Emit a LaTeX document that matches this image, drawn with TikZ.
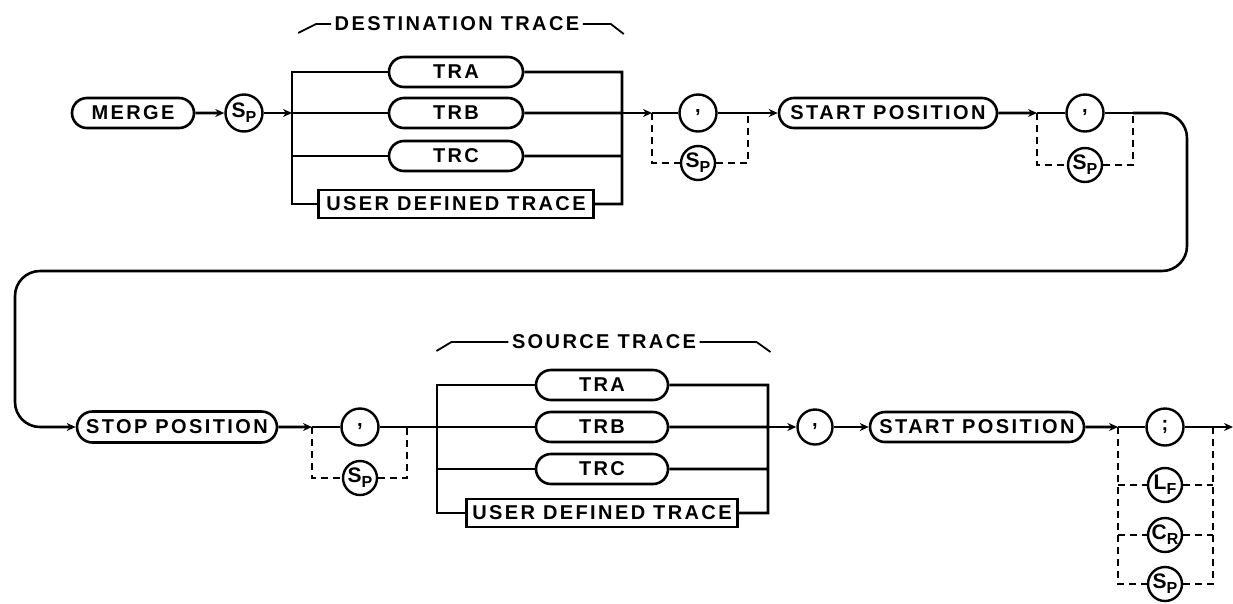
\documentclass[tikz,border=0pt]{standalone}
\usepackage{fontspec}
\newfontfamily\plotfont[LetterSpace=12]{Liberation Sans}
\usetikzlibrary{shapes.misc,arrows.meta,positioning}
\newcommand{\lowsub}[2]{{\fontsize{21}{21}\selectfont #1}\raisebox{-0.45ex}{\fontsize{16}{16}\selectfont #2}}

\begin{document}
\begin{tikzpicture}[x=1pt, y=-1pt,
    every node/.style={font=\plotfont\bfseries\fontsize{20}{22}\selectfont},
    term/.style={rounded rectangle, draw, line width=2.6pt, minimum height=30pt, inner xsep=4pt, inner ysep=2pt},
    usrbox/.style={rectangle, draw, line width=2.6pt, minimum height=28pt, inner xsep=4pt, inner ysep=2pt},
    sym/.style={circle, draw, line width=2.4pt, minimum size=37pt, inner sep=0pt},
    line/.style={line width=2.6pt},
    flow/.style={line width=2.6pt, -{Stealth[length=9pt,width=8pt]}},
    bypass/.style={line width=1.8pt, dash pattern=on 7pt off 5pt},
    bracket/.style={line width=1.8pt}]
  \useasboundingbox (0,0) rectangle (1233,603);

  % first line
  \node[term, minimum width=130pt] (merge) at (133,113) {MERGE};
  \node[sym] (sp1) at (244,113) {\lowsub{S}{P}};
  \coordinate (jl1) at (292,113);
  \coordinate (jr1) at (622,113);
  \node[term, minimum width=142pt] (tra1) at (456,72) {TRA};
  \node[term, minimum width=142pt] (trb1) at (456,113) {TRB};
  \node[term, minimum width=142pt] (trc1) at (456,156) {TRC};
  \node[usrbox, minimum width=275pt] (usr1) at (456,204) {USER DEFINED TRACE};
  \node (dst) at (457,24) {DESTINATION TRACE};
  \coordinate (s1) at (652,113);
  \node[sym] (c1) at (698,113) {,};
  \coordinate (m1) at (748,113);
  \node[sym, minimum size=34pt] (sp2) at (698,163) {\lowsub{S}{P}};
  \node[term, minimum width=226pt] (st1) at (888,113) {START POSITION};
  \coordinate (s2) at (1037,113);
  \node[sym] (c2) at (1085,113) {,};
  \coordinate (m2) at (1133,113);
  \node[sym, minimum size=34pt] (sp3) at (1085,165) {\lowsub{S}{P}};

  \draw[flow] (merge) -- (sp1);
  \draw[flow] (sp1) -- (jl1);
  \draw[line] (jl1) |- (tra1) (jl1) -- (trb1) (jl1) |- (trc1) (jl1) |- (usr1);
  \draw[line] (tra1) -| (jr1) (trb1) -- (jr1) (trc1) -| (jr1) (usr1) -| (jr1);
  \draw[bracket] (dst.west) -- ++(-15,0) -- ++(-18,9);
  \draw[bracket] (dst.east) -- ++(28,0) -- ++(13,10);
  \draw[flow] (jr1) -- (s1);
  \draw[line] (s1) -- (c1) -- (m1);
  \draw[bypass] (s1) |- (sp2) -| (m1);
  \draw[flow] (m1) -- (st1);
  \draw[flow] (st1) -- (s2);
  \draw[line] (s2) -- (c2) -- (m2);
  \draw[bypass] (s2) |- (sp3) -| (m2);

  % wrap to second line
  \coordinate (k1) at (1187,113);
  \coordinate (k2) at (1187,271);
  \coordinate (k3) at (15,271);
  \coordinate (k4) at (15,427);

  % second line
  \node[term, minimum width=208pt, minimum height=31pt] (stop1) at (177,427) {STOP POSITION};
  \coordinate (s3) at (312,427);
  \node[sym] (c3) at (360,427) {,};
  \coordinate (m3) at (407,427);
  \node[sym, minimum size=34pt] (sp4) at (360,478) {\lowsub{S}{P}};
  \coordinate (jl2) at (437,427);
  \coordinate (jr2) at (768,427);
  \node[term, minimum width=140pt] (tra2) at (602,385) {TRA};
  \node[term, minimum width=140pt] (trb2) at (602,427) {TRB};
  \node[term, minimum width=140pt] (trc2) at (602,469) {TRC};
  \node[usrbox, minimum width=271pt] (usr2) at (602,513) {USER DEFINED TRACE};
  \node (src) at (604,342) {SOURCE TRACE};
  \node[sym, minimum size=35pt] (c4) at (815,427) {,};
  \node[term, minimum width=222pt] (st2) at (977,427) {START POSITION};
  \coordinate (s4) at (1118,427);
  \node[sym] (c5) at (1165,427) {;};
  \coordinate (m4) at (1213,427);
  \node[sym, minimum size=34pt] (lf) at (1165,485) {\lowsub{L}{F}};
  \node[sym, minimum size=34pt] (cr) at (1165,535) {\lowsub{C}{R}};
  \node[sym, minimum size=34pt] (sp5) at (1165,584) {\lowsub{S}{P}};
  \coordinate (fin) at (1233,427);

  \draw[flow, rounded corners=25pt] (m2) -- (k1) -- (k2) -- (k3) -- (k4) -- (stop1);
  \draw[flow] (stop1) -- (s3);
  \draw[line] (s3) -- (c3) -- (m3) -- (jl2);
  \draw[bypass] (s3) |- (sp4) -| (m3);
  \draw[line] (jl2) |- (tra2) (jl2) -- (trb2) (jl2) |- (trc2) (jl2) |- (usr2);
  \draw[line] (tra2) -| (jr2) (trb2) -- (jr2) (trc2) -| (jr2) (usr2) -| (jr2);
  \draw[bracket] (src.west) -- ++(-57,0) -- ++(-15,9);
  \draw[bracket] (src.east) -- ++(57,0) -- ++(14,10);
  \draw[flow] (jr2) -- (c4);
  \draw[flow] (c4) -- (st2);
  \draw[flow] (st2) -- (s4);
  \draw[line] (s4) -- (c5) -- (m4);
  \draw[flow] (m4) -- (fin);
  \draw[bypass] (s4) |- (sp5) -| (m4);
  \draw[bypass] (s4 |- lf) -- (lf) -- (m4 |- lf);
  \draw[bypass] (s4 |- cr) -- (cr) -- (m4 |- cr);
\end{tikzpicture}
\end{document}
